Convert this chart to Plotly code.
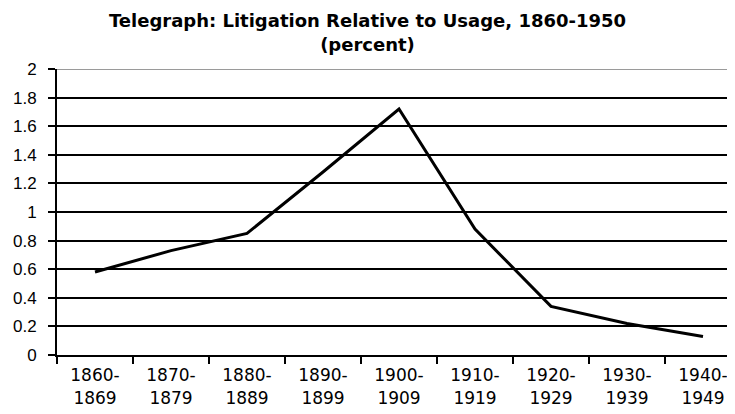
import plotly.graph_objects as go

periods = ["1860-1869", "1870-1879", "1880-1889", "1890-1899", "1900-1909",
           "1910-1919", "1920-1929", "1930-1939", "1940-1949"]
tick_labels = ["1860-<br>1869", "1870-<br>1879", "1880-<br>1889", "1890-<br>1899",
               "1900-<br>1909", "1910-<br>1919", "1920-<br>1929", "1930-<br>1939",
               "1940-<br>1949"]
litigation_pct = [0.58, 0.73, 0.85, 1.28, 1.72, 0.88, 0.34, 0.22, 0.13]
y_ticks = [0, 0.2, 0.4, 0.6, 0.8, 1, 1.2, 1.4, 1.6, 1.8, 2]
y_tick_text = ["0", "0.2", "0.4", "0.6", "0.8", "1", "1.2", "1.4", "1.6", "1.8", "2"]

SANS = "'DejaVu Sans', sans-serif"
ARIAL = "Arial, 'Liberation Sans', sans-serif"

fig = go.Figure()
fig.add_trace(go.Scatter(
    x=periods, y=litigation_pct, mode="lines",
    line=dict(color="black", width=3), hoverinfo="x+y", showlegend=False,
))

# the page body has an 8px default margin, so the figure is sized to fit the window
fig.update_layout(
    width=727, height=406,
    margin=dict(l=49, r=0, t=61, b=59),
    paper_bgcolor="white", plot_bgcolor="white",
    font=dict(family=SANS, color="black"),
    title=dict(
        text="<b>Telegraph: Litigation Relative to Usage, 1860-1950<br>(percent)</b>",
        x=0.4945, xanchor="center", xref="container",
        y=0.952, yanchor="top", yref="container",
        font=dict(size=18, family=SANS, color="black"),
    ),
    xaxis=dict(
        type="category",
        range=[-0.5, 8.421],
        tickmode="array", tickvals=periods, ticktext=tick_labels,
        tickson="boundaries",
        ticks="outside", ticklen=7, tickwidth=1.5, tickcolor="black",
        showline=True, linecolor="black", linewidth=2,
        showgrid=False, zeroline=False,
        tickfont=dict(size=17, family=SANS, color="black"),
        ticklabelstandoff=4,
        fixedrange=True,
    ),
    yaxis=dict(
        range=[0, 2],
        tickmode="array", tickvals=y_ticks, ticktext=y_tick_text,
        ticks="outside", ticklen=7, tickwidth=1.5, tickcolor="black",
        showline=True, linecolor="black", linewidth=2,
        showgrid=True, gridcolor="black", gridwidth=1.5,
        zeroline=False,
        tickfont=dict(size=17, family=ARIAL, color="black"),
        ticklabelstandoff=8,
        fixedrange=True,
    ),
    shapes=[dict(type="line", xref="paper", yref="y", x0=0, x1=1, y0=2, y1=2,
                 line=dict(color="#9a9a9a", width=2), layer="above")],
)

fig.write_html("out.html")
